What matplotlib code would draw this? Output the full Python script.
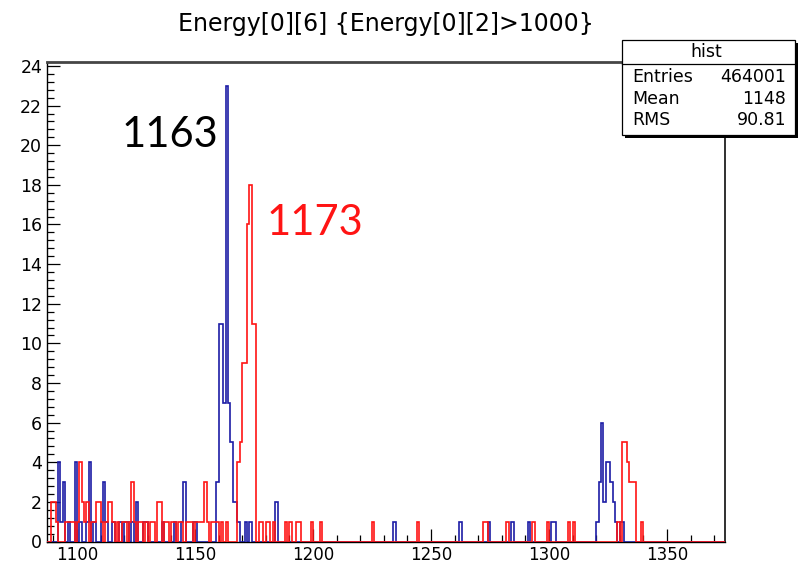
import numpy as np
import matplotlib
matplotlib.use("Agg")
import matplotlib.pyplot as plt
from matplotlib.patches import Rectangle
from matplotlib.lines import Line2D

# ---- histogram contents (1-unit bins, lower bin edge -> counts) ----
blue_bins = [1092, 1093, 1094, 1096, 1099, 1101, 1104, 1105, 1107, 1110,
             1111, 1112, 1115, 1118, 1120, 1121, 1123, 1125, 1128, 1129,
             1136, 1141, 1144, 1145, 1149, 1150,
             1159, 1160, 1161, 1162, 1163, 1164, 1165, 1166, 1167, 1168,
             1171, 1173, 1184, 1234, 1262, 1274, 1284, 1291, 1301, 1302,
             1320, 1321, 1322, 1323, 1324, 1325, 1326, 1327, 1328, 1330, 1331]
blue_counts = [4, 1, 3, 1, 4, 1, 1, 4, 1, 1,
               3, 1, 1, 1, 1, 1, 1, 2, 1, 1,
               1, 1, 1, 3, 1, 1,
               3, 11, 11, 7, 23, 7, 5, 2, 2, 1,
               1, 1, 2, 1, 1, 1, 1, 1, 1, 1,
               1, 3, 6, 2, 4, 4, 3, 2, 1, 1, 1]

red_bins = [1089, 1090, 1091, 1095, 1096, 1097, 1098, 1100, 1101, 1102,
            1103, 1104, 1106, 1107, 1108, 1109, 1110, 1112, 1113, 1114,
            1115, 1117, 1119, 1120, 1122, 1123, 1124, 1126, 1127, 1129,
            1131, 1132, 1134, 1135, 1137, 1138, 1140, 1141, 1143, 1144,
            1146, 1147, 1148, 1150, 1151, 1152, 1153, 1154, 1155, 1157,
            1158, 1159, 1161, 1163,
            1168, 1169, 1170, 1171, 1172, 1173, 1174, 1175,
            1177, 1178, 1180, 1181, 1183, 1188, 1190, 1193, 1194, 1199,
            1203, 1225, 1244, 1272, 1273, 1282, 1293, 1299, 1308, 1310,
            1329, 1331, 1332, 1333, 1334, 1335, 1336, 1339]
red_counts = [2, 2, 1, 1, 1, 1, 1, 1, 4, 2,
              1, 2, 1, 1, 2, 2, 1, 1, 2, 2,
              1, 1, 1, 1, 1, 3, 1, 1, 1, 1,
              1, 1, 2, 2, 1, 1, 1, 1, 1, 1,
              1, 1, 1, 1, 1, 1, 1, 3, 1, 1,
              1, 1, 1, 1,
              4, 5, 9, 9, 16, 18, 11, 11,
              1, 1, 1, 1, 1, 1, 1, 1, 1, 1,
              1, 1, 1, 1, 1, 1, 1, 1, 1, 1,
              1, 5, 5, 4, 3, 3, 3, 1]

peak_labels = ["1163", "1173"]
title = "Energy[0][6] {Energy[0][2]>1000}"
stats_name = "hist"
stats_rows = [("Entries", "464001"), ("Mean", "1148"), ("RMS", "90.81")]

x_major = [1100, 1150, 1200, 1250, 1300, 1350]
y_major = list(range(0, 25, 2))

# ---- build full histograms ----
edges = np.arange(1087, 1377)
def fill(bins, counts):
    h = np.zeros(len(edges) - 1)
    for b, c in zip(bins, counts):
        h[b - edges[0]] = c
    return h

h_blue = fill(blue_bins, blue_counts)
h_red = fill(red_bins, red_counts)

W, H = 798, 563
fig = plt.figure(figsize=(W / 100, H / 100), dpi=100)
fig.patch.set_facecolor("white")

def fx(px):
    return px / W

def fy(py):
    return 1 - py / H

ax_left, ax_right, ax_top, ax_bot = 47, 725, 62, 541.5
ax = fig.add_axes([fx(ax_left), fy(ax_bot), fx(ax_right) - fx(ax_left),
                   fy(ax_top) - fy(ax_bot)])

rootfont = "DejaVu Sans"
blue = "#1c1ca6"
red = "#ff1414"

ax.stairs(h_blue, edges, color=blue, lw=1.2, baseline=0, zorder=3)
ax.stairs(h_red, edges, color=red, lw=1.2, baseline=0, zorder=4)

ax.set_xlim(1087.3, 1374.6)
ax.set_ylim(0, 24.2)

ax.set_xticks(x_major)
ax.set_xticks(np.arange(1090, 1375, 10), minor=True)
ax.set_yticks(y_major)
ax.set_yticks(np.arange(0, 24.01, 0.4), minor=True)
ax.set_xticklabels([str(v) for v in x_major], fontfamily=rootfont, fontsize=12)
ax.set_yticklabels([str(v) for v in y_major], fontfamily=rootfont, fontsize=12.5)
ax.tick_params(which="major", direction="in", length=9.5, width=0.9, color="black")
ax.tick_params(which="minor", direction="in", length=5, width=0.9, color="black")
ax.tick_params(axis="x", which="major", pad=3.2)
ax.tick_params(axis="y", which="major", pad=3.5)

for side in ("left", "bottom"):
    ax.spines[side].set_color("black")
    ax.spines[side].set_linewidth(1.0)
ax.spines["top"].set_color("#454545")
ax.spines["top"].set_linewidth(2.0)
ax.spines["right"].set_color("#303030")
ax.spines["right"].set_linewidth(1.4)

# peak annotations
ax.text(1163 - 3.2, 20.5, peak_labels[0], color="black", fontfamily="Lato",
        fontsize=30, ha="right", va="center", zorder=6)
ax.text(1173 + 7.5, 16.05, peak_labels[1], color=red, fontfamily="Lato",
        fontsize=30, ha="left", va="center", zorder=6)

# title
fig.text(fx(386), fy(24), title, fontfamily=rootfont, fontsize=17,
         ha="center", va="center")

# statistics box with drop shadow
bx0, by0, bx1, by1 = 622, 40, 795, 135
fig.patches.append(Rectangle((fx(bx0 + 2.5), fy(by1 + 2.5)), fx(bx1 - bx0), fy(by0) - fy(by1),
                             transform=fig.transFigure, facecolor="black",
                             edgecolor="none", zorder=10))
fig.patches.append(Rectangle((fx(bx0), fy(by1)), fx(bx1 - bx0), fy(by0) - fy(by1),
                             transform=fig.transFigure, facecolor="white",
                             edgecolor="black", lw=0.9, zorder=11))
fig.lines.append(Line2D([fx(bx0), fx(bx1)], [fy(64), fy(64)], transform=fig.transFigure,
                        color="black", lw=0.9, zorder=12))
fig.text(fx(706), fy(52), stats_name, fontfamily=rootfont, fontsize=12.5,
         ha="center", va="center", zorder=13)
for i, (k, v) in enumerate(stats_rows):
    yy = fy(77 + i * 21.5)
    fig.text(fx(632), yy, k, fontfamily=rootfont, fontsize=12.5,
             ha="left", va="center", zorder=13)
    fig.text(fx(786), yy, v, fontfamily=rootfont, fontsize=12.5,
             ha="right", va="center", zorder=13)

fig.savefig("out.png", dpi=100)
